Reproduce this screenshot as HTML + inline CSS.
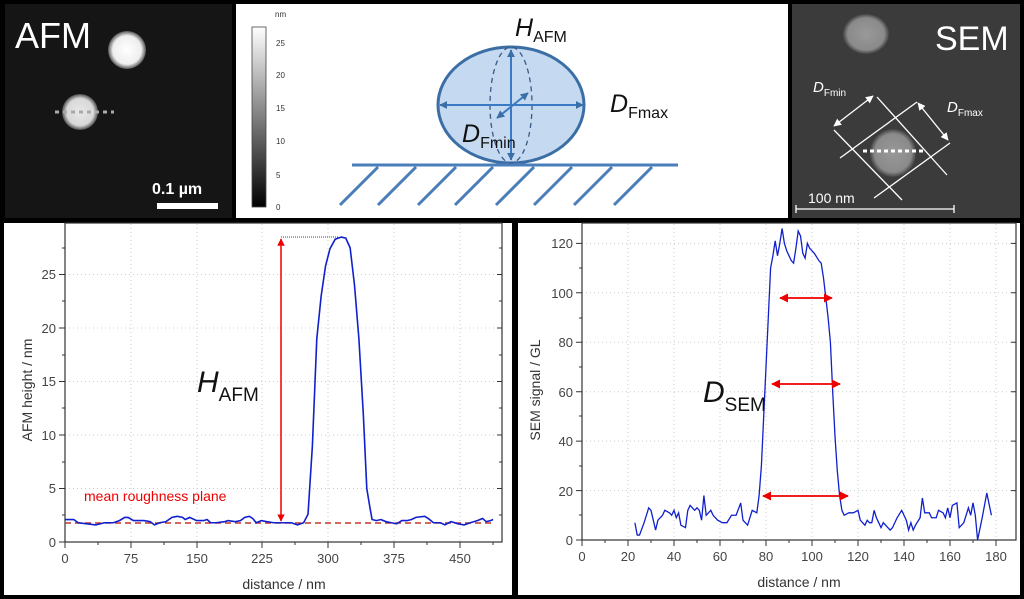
<!DOCTYPE html>
<html><head><meta charset="utf-8"><style>
html,body{margin:0;padding:0;background:#000;}
svg{display:block;}
text{font-family:"Liberation Sans",sans-serif;}
</style></head><body>
<svg width="1024" height="599" viewBox="0 0 1024 599" xmlns="http://www.w3.org/2000/svg">
<defs>
<linearGradient id="cb" x1="0" y1="0" x2="0" y2="1"><stop offset="0" stop-color="#fff"/><stop offset="1" stop-color="#000"/></linearGradient>
<radialGradient id="b1"><stop offset="0" stop-color="#fff"/><stop offset="0.75" stop-color="#eee"/><stop offset="1" stop-color="#555"/></radialGradient>
<radialGradient id="b2"><stop offset="0" stop-color="#999"/><stop offset="0.8" stop-color="#8a8a8a"/><stop offset="1" stop-color="#444"/></radialGradient>
<marker id="ab" viewBox="0 0 10 10" refX="9" refY="5" markerWidth="4" markerHeight="4" orient="auto-start-reverse"><path d="M0,0L10,5L0,10z" fill="#3a6ea5"/></marker>
<marker id="ar" viewBox="0 0 10 10" refX="9" refY="5" markerWidth="5" markerHeight="5" orient="auto-start-reverse"><path d="M0,0L10,5L0,10z" fill="#e00"/></marker>
<marker id="aw" viewBox="0 0 10 10" refX="9" refY="5" markerWidth="6" markerHeight="6" orient="auto-start-reverse"><path d="M0,0L10,5L0,10z" fill="#fff"/></marker>
</defs>
<rect width="1024" height="599" fill="#000"/>
<!-- AFM image -->
<rect x="5" y="4" width="227" height="214" fill="#151515"/>
<circle cx="127" cy="50" r="19" fill="url(#b1)"/>
<circle cx="80" cy="112" r="18" fill="url(#b1)" opacity="0.9"/>
<line x1="55" y1="112" x2="114" y2="112" stroke="#aaa" stroke-width="3" stroke-dasharray="4,4"/>
<text x="15" y="48" font-size="36" fill="#fff">AFM</text>
<text x="152" y="194" font-size="16" font-weight="bold" fill="#fff">0.1 µm</text>
<rect x="157" y="203" width="61" height="6" fill="#fff"/>
<!-- diagram -->
<rect x="236" y="4" width="552" height="214" fill="#fff"/>
<rect x="252" y="27" width="14" height="180" fill="url(#cb)" stroke="#444" stroke-width="0.8"/>
<g font-size="8" fill="#333"><text x="275" y="17">nm</text><text x="276" y="46">25</text><text x="276" y="78">20</text><text x="276" y="111">15</text><text x="276" y="144">10</text><text x="276" y="178">5</text><text x="276" y="210">0</text></g>
<ellipse cx="511" cy="105" rx="73" ry="58" fill="#c5d9f1" stroke="#3a6ea5" stroke-width="3"/>
<ellipse cx="511" cy="105" rx="21" ry="58" fill="none" stroke="#3a5a85" stroke-width="1.3" stroke-dasharray="5,4"/>
<line x1="511" y1="50" x2="511" y2="160" stroke="#3a7ac5" stroke-width="2" marker-start="url(#ab)" marker-end="url(#ab)"/>
<line x1="440" y1="105" x2="583" y2="105" stroke="#3a7ac5" stroke-width="2" marker-start="url(#ab)" marker-end="url(#ab)"/>
<line x1="497" y1="118" x2="528" y2="93" stroke="#3a7ac5" stroke-width="2" marker-start="url(#ab)" marker-end="url(#ab)"/>
<line x1="352" y1="165" x2="678" y2="165" stroke="#4a7ebb" stroke-width="3"/>
<g stroke="#4a7ebb" stroke-width="3">
<line x1="340" y1="205" x2="378" y2="167"/><line x1="378" y1="205" x2="416" y2="167"/><line x1="418" y1="205" x2="456" y2="167"/><line x1="455" y1="205" x2="493" y2="167"/><line x1="496" y1="205" x2="534" y2="167"/><line x1="534" y1="205" x2="572" y2="167"/><line x1="574" y1="205" x2="612" y2="167"/><line x1="614" y1="205" x2="652" y2="167"/>
</g>
<text x="515" y="36" font-size="25" fill="#111"><tspan font-style="italic">H</tspan><tspan font-size="16" dy="6">AFM</tspan></text>
<text x="610" y="112" font-size="25" fill="#111"><tspan font-style="italic">D</tspan><tspan font-size="16" dy="6">Fmax</tspan></text>
<text x="462" y="142" font-size="25" fill="#111"><tspan font-style="italic">D</tspan><tspan font-size="16" dy="6">Fmin</tspan></text>
<!-- SEM image -->
<rect x="792" y="4" width="228" height="214" fill="#3b3b3b"/>
<ellipse cx="866" cy="34" rx="23" ry="20" fill="url(#b2)"/>
<ellipse cx="893" cy="153" rx="23" ry="24" fill="url(#b2)"/>
<text x="935" y="50" font-size="34" fill="#fff">SEM</text>
<g stroke="#fff" stroke-width="1.3">
<line x1="877" y1="97" x2="947" y2="175"/><line x1="834" y1="130" x2="902" y2="200"/>
<line x1="840" y1="158" x2="917" y2="102"/><line x1="874" y1="198" x2="950" y2="143"/>
<line x1="834" y1="126" x2="873" y2="96" marker-start="url(#aw)" marker-end="url(#aw)"/>
<line x1="918" y1="103" x2="948" y2="140" marker-start="url(#aw)" marker-end="url(#aw)"/>
</g>
<line x1="863" y1="151" x2="925" y2="151" stroke="#fff" stroke-width="3" stroke-dasharray="4,3"/>
<text x="813" y="92" font-size="15" fill="#fff"><tspan font-style="italic">D</tspan><tspan font-size="10" dy="4">Fmin</tspan></text>
<text x="947" y="112" font-size="15" fill="#fff"><tspan font-style="italic">D</tspan><tspan font-size="10" dy="4">Fmax</tspan></text>
<text x="808" y="203" font-size="14" fill="#fff">100 nm</text>
<g stroke="#fff" stroke-width="1.3"><line x1="796" y1="209" x2="954" y2="209"/><line x1="796" y1="205" x2="796" y2="213"/><line x1="954" y1="205" x2="954" y2="213"/></g>

<!-- AFM plot -->
<rect x="4" y="223" width="508" height="372" fill="#fff"/>
<g stroke="#ccc" stroke-width="1" stroke-dasharray="1,3">
<line x1="131" y1="224" x2="131" y2="542"/><line x1="197" y1="224" x2="197" y2="542"/><line x1="262" y1="224" x2="262" y2="542"/><line x1="328" y1="224" x2="328" y2="542"/><line x1="394" y1="224" x2="394" y2="542"/><line x1="460" y1="224" x2="460" y2="542"/>
<line x1="65" y1="488.5" x2="502" y2="488.5"/><line x1="65" y1="435" x2="502" y2="435"/><line x1="65" y1="381.5" x2="502" y2="381.5"/><line x1="65" y1="328" x2="502" y2="328"/><line x1="65" y1="274.5" x2="502" y2="274.5"/>
</g>
<rect x="65" y="223" width="437" height="319" fill="none" stroke="#333" stroke-width="1.2"/>
<g stroke="#333" stroke-width="1">
<path d="M65,542v6M98,542v3M131,542v6M164,542v3M197,542v6M230,542v3M262,542v6M295,542v3M328,542v6M361,542v3M394,542v6M427,542v3M460,542v6M493,542v3"/>
<path d="M65,542h-6M65,515h-3M65,488.5h-6M65,462h-3M65,435h-6M65,408h-3M65,381.5h-6M65,355h-3M65,328h-6M65,301h-3M65,274.5h-6M65,248h-3"/>
<path d="M502,542h-5M502,515h-3M502,488.5h-5M502,462h-3M502,435h-5M502,408h-3M502,381.5h-5M502,355h-3M502,328h-5M502,301h-3M502,274.5h-5M502,248h-3"/>
</g>
<g font-size="13" fill="#444" text-anchor="middle">
<text x="65" y="563">0</text><text x="131" y="563">75</text><text x="197" y="563">150</text><text x="262" y="563">225</text><text x="328" y="563">300</text><text x="394" y="563">375</text><text x="460" y="563">450</text>
</g>
<g font-size="13" fill="#444" text-anchor="end">
<text x="56" y="547">0</text><text x="56" y="493">5</text><text x="56" y="440">10</text><text x="56" y="386">15</text><text x="56" y="333">20</text><text x="56" y="279">25</text>
</g>
<text x="284" y="589" font-size="14" fill="#333" text-anchor="middle">distance / nm</text>
<text transform="translate(32,390) rotate(-90)" font-size="14" fill="#333" text-anchor="middle">AFM height / nm</text>
<line x1="65" y1="523" x2="491" y2="523" stroke="#c0392b" stroke-width="1.5" stroke-dasharray="6,4"/>
<line x1="281" y1="237" x2="338" y2="237" stroke="#e00" stroke-width="1" stroke-dasharray="1,1"/>
<line x1="281" y1="239" x2="281" y2="521" stroke="#e00" stroke-width="1.5" marker-start="url(#ar)" marker-end="url(#ar)"/>
<g transform="translate(65,542) scale(0.8773,-10.7)">
<polyline fill="none" stroke="#1020cc" stroke-width="1.6" vector-effect="non-scaling-stroke" points="0,2.1 10,2.1 15,1.8 25,1.7 35,1.6 45,1.8 55,1.8 62,2.0 68,2.3 72,2.3 78,2.0 90,2.0 97,1.9 102,1.6 108,1.8 115,1.9 122,2.3 128,2.4 134,2.3 137,2.1 142,2.3 150,2.0 158,2.0 162,2.1 166,1.8 172,1.8 182,1.9 186,2.0 194,1.9 200,2.0 205,2.3 210,2.4 214,2.2 218,1.8 224,2.0 230,1.9 238,1.8 248,1.8 258,1.8 265,1.6 272,1.8 277,2.6 282,9 287,19 292,23 297,25.8 302,27.4 308,28.3 315,28.5 320,28.4 325,27.5 330,24 335,19 340,12 344,5 347,3.5 350,2.1 355,2.0 360,2.1 366,1.9 372,1.8 378,1.7 384,2.0 390,2.0 395,2.1 400,2.3 410,2.4 414,2.2 420,1.8 428,1.8 433,1.6 440,1.9 448,1.7 455,1.6 462,1.8 470,2.0 476,2.2 480,1.9 485,2.0 488,2.1"/>
</g>
<text x="84" y="501" font-size="14" fill="#e00">mean roughness plane</text>
<text x="197" y="392" font-size="30" fill="#111"><tspan font-style="italic">H</tspan><tspan font-size="19" dy="9">AFM</tspan></text>

<!-- SEM plot -->
<rect x="518" y="223" width="502" height="372" fill="#fff"/>
<g stroke="#ccc" stroke-width="1" stroke-dasharray="1,3">
<line x1="628" y1="224" x2="628" y2="540"/><line x1="674" y1="224" x2="674" y2="540"/><line x1="720" y1="224" x2="720" y2="540"/><line x1="766" y1="224" x2="766" y2="540"/><line x1="812" y1="224" x2="812" y2="540"/><line x1="858" y1="224" x2="858" y2="540"/><line x1="904" y1="224" x2="904" y2="540"/><line x1="950" y1="224" x2="950" y2="540"/><line x1="996" y1="224" x2="996" y2="540"/>
<line x1="582" y1="490.6" x2="1016" y2="490.6"/><line x1="582" y1="441.1" x2="1016" y2="441.1"/><line x1="582" y1="391.7" x2="1016" y2="391.7"/><line x1="582" y1="342.2" x2="1016" y2="342.2"/><line x1="582" y1="292.8" x2="1016" y2="292.8"/><line x1="582" y1="243.4" x2="1016" y2="243.4"/>
</g>
<rect x="582" y="223" width="434" height="317" fill="none" stroke="#333" stroke-width="1.2"/>
<g stroke="#333" stroke-width="1">
<path d="M582,540v6M605,540v3M628,540v6M651,540v3M674,540v6M697,540v3M720,540v6M743,540v3M766,540v6M789,540v3M812,540v6M835,540v3M858,540v6M881,540v3M904,540v6M927,540v3M950,540v6M973,540v3M996,540v6"/>
<path d="M582,540h-6M582,515h-3M582,490.6h-6M582,466h-3M582,441.1h-6M582,416h-3M582,391.7h-6M582,367h-3M582,342.2h-6M582,318h-3M582,292.8h-6M582,268h-3M582,243.4h-6"/>
<path d="M1016,540h-5M1016,490.6h-5M1016,441.1h-5M1016,391.7h-5M1016,342.2h-5M1016,292.8h-5M1016,243.4h-5"/>
</g>
<g font-size="13" fill="#444" text-anchor="middle">
<text x="582" y="561">0</text><text x="628" y="561">20</text><text x="674" y="561">40</text><text x="720" y="561">60</text><text x="766" y="561">80</text><text x="812" y="561">100</text><text x="858" y="561">120</text><text x="904" y="561">140</text><text x="950" y="561">160</text><text x="996" y="561">180</text>
</g>
<g font-size="13" fill="#444" text-anchor="end">
<text x="573" y="545">0</text><text x="573" y="496">20</text><text x="573" y="446">40</text><text x="573" y="397">60</text><text x="573" y="347">80</text><text x="573" y="298">100</text><text x="573" y="248">120</text>
</g>
<text x="799" y="587" font-size="14" fill="#333" text-anchor="middle">distance / nm</text>
<text transform="translate(540,390) rotate(-90)" font-size="14" fill="#333" text-anchor="middle">SEM signal / GL</text>
<g transform="translate(582,540) scale(2.3,-2.472)">
<polyline fill="none" stroke="#1020cc" stroke-width="1.3" vector-effect="non-scaling-stroke" points="23,7 24,2 25,2 27,7 29,13 30,12 32,4 33,8 35,10 36,12 38,11 39,10 40,12 41,9 42,11 43,6 45,5 46,12 47,14 49,12 50,13 51,12 52,8 53,18 54,10 56,12 57,10 59,8 61,7 63,7 65,10 67,10 69,15 70,8 72,6 74,12 76,11 77,18 78,30 79,50 80,70 81,90 82,110 83,115 84,121 85,115 86,120 87,126 88,120 89,117 91,113 92,112 93,118 94,125 95,123 96,116 97,114 98,120 99,118 101,116 103,113 104,112 105,106 106,98 107,90 108,80 109,60 110,42 111,28 112,18 113,12 114,10 116,11 118,11 120,12 121,8 122,7 123,6 124,8 125,7 126,7 127,12 128,9 129,7 130,5 131,7 132,6 134,4 135,5 137,9 139,12 140,10 141,8 142,4 143,7 144,4 145,6 147,9 148,17 149,11 151,11 152,9 154,9 155,12 157,11 158,9 159,13 160,9 161,14 163,15 164,5 166,7 168,13 169,10 170,15 171,10 172,0 174,9 176,19 178,10"/>
</g>
<g stroke="#e00" stroke-width="1.8">
<line x1="780" y1="298" x2="832" y2="298" marker-start="url(#ar)" marker-end="url(#ar)"/>
<line x1="772" y1="384" x2="840" y2="384" marker-start="url(#ar)" marker-end="url(#ar)"/>
<line x1="763" y1="496" x2="848" y2="496" marker-start="url(#ar)" marker-end="url(#ar)"/>
</g>
<text x="703" y="402" font-size="30" fill="#111"><tspan font-style="italic">D</tspan><tspan font-size="19" dy="9">SEM</tspan></text>
</svg>
</body></html>
